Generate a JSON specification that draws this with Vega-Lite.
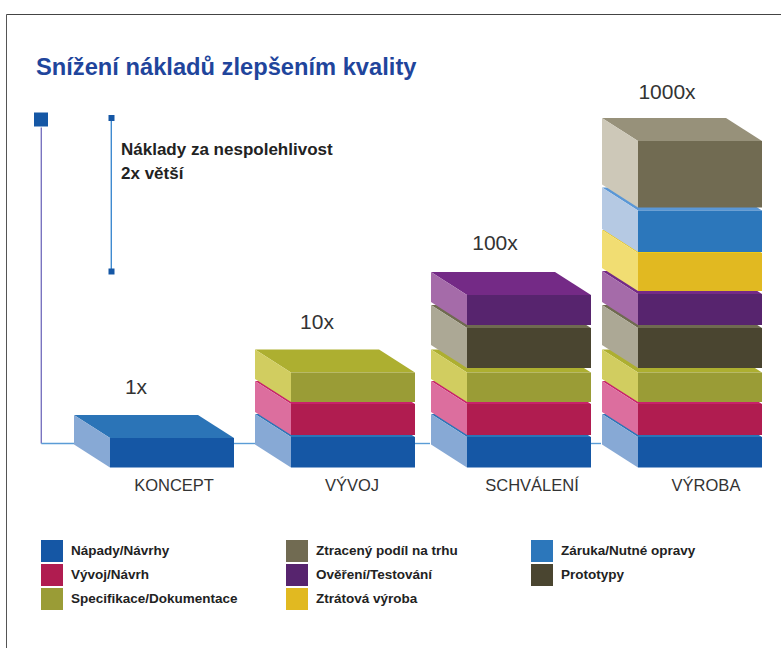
{
"$schema":"https://vega.github.io/schema/vega-lite/v6.json",
"width":781,"height":648,"padding":0,"autosize":"none","background":"white",
"config":{"view":{"stroke":null},"font":"Liberation Sans"},
"title":{"text":"Snížení nákladů zlepšením kvality","anchor":"start","frame":"group","dx":36,"dy":84,"font":"Liberation Sans","fontSize":23.7,"fontWeight":"bold","color":"#1f459c"},
"datasets":{
"segments":[
{"id":"k1","stage":"KONCEPT","item":"Nápady/Návrhy","left":110,"right":234,"low":0,"high":29.5},
{"id":"v1","stage":"VÝVOJ","item":"Nápady/Návrhy","left":291,"right":415,"low":0,"high":30.5},
{"id":"v2","stage":"VÝVOJ","item":"Vývoj/Návrh","left":291,"right":415,"low":32.5,"high":63.5},
{"id":"v3","stage":"VÝVOJ","item":"Specifikace/Dokumentace","left":291,"right":415,"low":65.5,"high":95},
{"id":"s1","stage":"SCHVÁLENÍ","item":"Nápady/Návrhy","left":467,"right":591,"low":0,"high":30.5},
{"id":"s2","stage":"SCHVÁLENÍ","item":"Vývoj/Návrh","left":467,"right":591,"low":32.5,"high":63.5},
{"id":"s3","stage":"SCHVÁLENÍ","item":"Specifikace/Dokumentace","left":467,"right":591,"low":65.5,"high":95},
{"id":"s4","stage":"SCHVÁLENÍ","item":"Prototypy","left":467,"right":591,"low":99.5,"high":139.5},
{"id":"s5","stage":"SCHVÁLENÍ","item":"Ověření/Testování","left":467,"right":591,"low":142.5,"high":172.5},
{"id":"r1","stage":"VÝROBA","item":"Nápady/Návrhy","left":638,"right":762,"low":0,"high":30.5},
{"id":"r2","stage":"VÝROBA","item":"Vývoj/Návrh","left":638,"right":762,"low":32.5,"high":63.5},
{"id":"r3","stage":"VÝROBA","item":"Specifikace/Dokumentace","left":638,"right":762,"low":65.5,"high":95},
{"id":"r4","stage":"VÝROBA","item":"Prototypy","left":638,"right":762,"low":99.5,"high":139.5},
{"id":"r5","stage":"VÝROBA","item":"Ověření/Testování","left":638,"right":762,"low":142.5,"high":173.5},
{"id":"r6","stage":"VÝROBA","item":"Ztrátová výroba","left":638,"right":762,"low":176.5,"high":214.5},
{"id":"r7","stage":"VÝROBA","item":"Záruka/Nutné opravy","left":638,"right":762,"low":215.5,"high":257},
{"id":"r8","stage":"VÝROBA","item":"Ztracený podíl na trhu","left":638,"right":762,"low":260,"high":326.5}
],
"multipliers":[
{"text":"1x","x":136,"h":79.5},
{"text":"10x","x":317,"h":144.5},
{"text":"100x","x":495,"h":223.5},
{"text":"1000x","x":667,"h":374.5}
],
"stages":[
{"text":"KONCEPT","x":174,"h":-18.5},
{"text":"VÝVOJ","x":352,"h":-18.5},
{"text":"SCHVÁLENÍ","x":532,"h":-18.5},
{"text":"VÝROBA","x":706,"h":-18.5}
],
"notes":[
{"text":"Náklady za nespolehlivost","x":121,"h":317.5},
{"text":"2x větší","x":121,"h":293.5}
],
"riser":[{"x":41.3,"h":340,"h2":24}],
"baseline":[
{"x":41.3,"x2":74,"h":24},
{"x":234,"x2":255,"h":24},
{"x":415,"x2":430,"h":24},
{"x":591,"x2":601,"h":24}
],
"bracket":[{"x":111.3,"h":349.5,"h2":196}],
"frameV":[{"x":6.5,"h":453,"h2":-180.5}],
"frameH":[{"x":6.5,"x2":781,"h":453}],
"squares":[
{"x":41,"h":348,"s":196},
{"x":111.5,"h":349.5,"s":36},
{"x":111.5,"h":196,"s":36}
]
},
"layer":[
{"data":{"name":"frameV"},"mark":{"type":"rule","strokeWidth":1,"stroke":"#555555"},
 "encoding":{"x":{"field":"x","type":"quantitative","axis":null,"scale":{"domain":[0,781],"nice":false,"zero":false}},"y":{"field":"h","type":"quantitative","axis":null,"scale":{"domain":[-180.5,467.5],"nice":false,"zero":false}},"y2":{"field":"h2"}}},
{"data":{"name":"frameH"},"mark":{"type":"rule","strokeWidth":1,"stroke":"#444444"},
 "encoding":{"x":{"field":"x","type":"quantitative","axis":null},"x2":{"field":"x2"},"y":{"field":"h","type":"quantitative","axis":null}}},
{"data":{"name":"riser"},"mark":{"type":"rule","strokeWidth":1.4,"stroke":"#7a74c0"},
 "encoding":{"x":{"field":"x","type":"quantitative","axis":null},"y":{"field":"h","type":"quantitative","axis":null},"y2":{"field":"h2"}}},
{"data":{"name":"baseline"},"mark":{"type":"rule","strokeWidth":1.4,"stroke":"#5a9cd6"},
 "encoding":{"x":{"field":"x","type":"quantitative","axis":null},"x2":{"field":"x2"},"y":{"field":"h","type":"quantitative","axis":null}}},
{"data":{"name":"bracket"},"mark":{"type":"rule","strokeWidth":1.4,"stroke":"#3f8ad0"},
 "encoding":{"x":{"field":"x","type":"quantitative","axis":null},"y":{"field":"h","type":"quantitative","axis":null},"y2":{"field":"h2"}}},
{"data":{"name":"squares"},"mark":{"type":"point","shape":"square","filled":true,"opacity":1,"color":"#1557a5"},
 "encoding":{"x":{"field":"x","type":"quantitative","axis":null},"y":{"field":"h","type":"quantitative","axis":null},"size":{"field":"s","type":"quantitative","scale":null}}},
{"data":{"name":"segments"},
 "transform":[{"calculate":"[0,1]","as":"d"},{"flatten":["d"]},
  {"calculate":"datum.left-36*datum.d","as":"xa"},{"calculate":"datum.right-36*datum.d","as":"xb"},{"calculate":"datum.high+23*datum.d","as":"yt"}],
 "mark":{"type":"area","orient":"horizontal"},
 "encoding":{"y":{"field":"yt","type":"quantitative","axis":null},"x":{"field":"xa","type":"quantitative","axis":null},"x2":{"field":"xb"},"detail":{"field":"id"},
  "color":{"field":"item","type":"nominal","legend":null,"scale":{"domain":["Nápady/Návrhy","Vývoj/Návrh","Specifikace/Dokumentace","Ztracený podíl na trhu","Ověření/Testování","Ztrátová výroba","Záruka/Nutné opravy","Prototypy"],"range":["#2b74b7","#c8226a","#adaf30","#97917a","#742a86","#eec915","#5a97d6","#6f6a50"]}}}},
{"data":{"name":"segments"},
 "transform":[{"calculate":"[0,1]","as":"d"},{"flatten":["d"]},
  {"calculate":"datum.left-36*datum.d","as":"xa"},{"calculate":"datum.low+23*datum.d","as":"yl"},{"calculate":"datum.high+23*datum.d","as":"yt"}],
 "mark":{"type":"area","orient":"vertical"},
 "encoding":{"x":{"field":"xa","type":"quantitative","axis":null},"y":{"field":"yl","type":"quantitative","axis":null},"y2":{"field":"yt"},"detail":{"field":"id"},
  "color":{"field":"item","type":"nominal","legend":null,"scale":{"domain":["Nápady/Návrhy","Vývoj/Návrh","Specifikace/Dokumentace","Ztracený podíl na trhu","Ověření/Testování","Ztrátová výroba","Záruka/Nutné opravy","Prototypy"],"range":["#87a9d5","#dc6e9e","#d1cd60","#cdc8b8","#a56ba9","#f1dd72","#b5c9e3","#aca895"]}}}},
{"data":{"name":"segments"},
 "mark":{"type":"rect"},
 "encoding":{"x":{"field":"left","type":"quantitative","axis":null},"x2":{"field":"right"},"y":{"field":"low","type":"quantitative","axis":null},"y2":{"field":"high"},
  "color":{"field":"item","type":"nominal","scale":{"domain":["Nápady/Návrhy","Vývoj/Návrh","Specifikace/Dokumentace","Ztracený podíl na trhu","Ověření/Testování","Ztrátová výroba","Záruka/Nutné opravy","Prototypy"],"range":["#1557a5","#b01c50","#9a9c36","#716b52","#57246e","#e1b921","#2c77bb","#4a4530"]},
   "legend":{"title":null,"orient":"none","legendX":41,"legendY":540,"direction":"vertical","columns":3,"gridAlign":"all","columnPadding":48,"rowPadding":2,"symbolType":"square","symbolSize":484,"symbolStrokeWidth":0,"labelOffset":8,"labelFont":"Liberation Sans","labelFontSize":13.5,"labelFontWeight":"bold","labelColor":"#222222","labelLimit":300,"padding":0}}}},
{"data":{"name":"multipliers"},"mark":{"type":"text","align":"center","baseline":"middle","color":"#333333","fontSize":21},
 "encoding":{"x":{"field":"x","type":"quantitative","axis":null},"y":{"field":"h","type":"quantitative","axis":null},"text":{"field":"text"}}},
{"data":{"name":"stages"},"mark":{"type":"text","align":"center","baseline":"middle","color":"#333333","fontSize":16.5},
 "encoding":{"x":{"field":"x","type":"quantitative","axis":null},"y":{"field":"h","type":"quantitative","axis":null},"text":{"field":"text"}}},
{"data":{"name":"notes"},"mark":{"type":"text","align":"left","baseline":"middle","color":"#222222","fontSize":17,"fontWeight":"bold"},
 "encoding":{"x":{"field":"x","type":"quantitative","axis":null},"y":{"field":"h","type":"quantitative","axis":null},"text":{"field":"text"}}}
],
"resolve":{"scale":{"color":"independent"}}
}
